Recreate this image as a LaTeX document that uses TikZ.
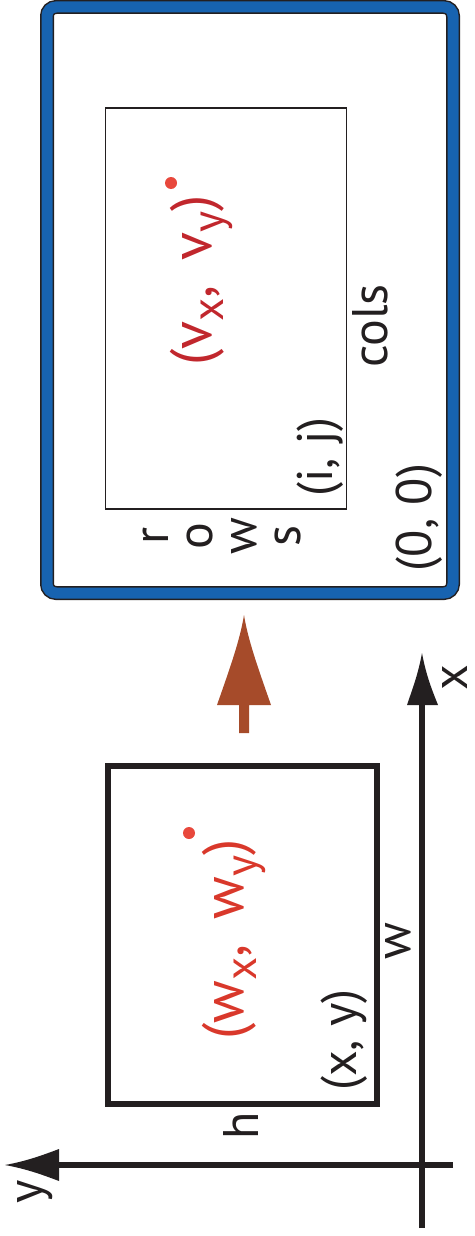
\documentclass[tikz,border=0pt]{standalone}
\usepackage{fontspec}
\setmainfont{PT Sans}
\definecolor{ink}{HTML}{231F20}
\definecolor{frameblue}{HTML}{1763B0}
\definecolor{vred}{HTML}{C1272D}
\definecolor{wred}{HTML}{D9382B}
\definecolor{dotred}{HTML}{E8483C}
\definecolor{brown}{HTML}{A64B2A}
\newcommand{\sbs}[1]{\raisebox{-0.22em}{\fontsize{45}{45}\selectfont #1}}
\begin{document}
\begin{tikzpicture}[x=1pt,y=-1pt,
  lbl/.style={rotate=90,inner sep=0pt,text=ink,font=\fontsize{50}{50}\selectfont},
  rlbl/.style={rotate=90,inner sep=0pt,font=\fontsize{58}{58}\selectfont},
  dot/.style={circle,fill=dotred,inner sep=0pt,minimum size=12pt},
  head/.style={fill=ink,draw=none}]
\useasboundingbox (0,0) rectangle (474,1236);
% ---------- right panel: image frame ----------
\draw[line width=14pt,draw=ink,rounded corners=9pt] (47,7) rectangle (453,593);
\draw[line width=11pt,draw=frameblue,rounded corners=9pt] (47,7) rectangle (453,593);
\draw[line width=1.3pt,draw=ink] (105.5,108) rectangle (346.5,509);
\node[lbl] (cols) at (370,326) {cols};
\node[lbl] (ij) at (320,457) {(i, j)};
\node[lbl] (o00) at (419,517.5) {(0, 0)};
\node[lbl,align=center,font=\fontsize{50}{44}\selectfont] (rows) at (222,536) {r\\o\\w\\s};
\node[rlbl,text=vred] (vtxt) at (201.5,280.5) {(v\sbs{x},\ \,v\sbs{y})};
\node[dot] (vdot) at (171,183) {};
% ---------- brown transformation arrow ----------
\coordinate (bt) at (244,615);
\fill[brown] (239,733) -- (239,705) -- (217,705)
  .. controls (230,668) and (240,640) .. (bt)
  .. controls (248,640) and (258,668) .. (271,705)
  -- (249,705) -- (249,733) -- cycle;
% ---------- left panel: world window ----------
\draw[line width=6pt,draw=ink] (108,766) rectangle (376.5,1104);
\node[rlbl,text=wred] (wtxt) at (234,939.5) {(w\sbs{x},\ \,w\sbs{y})};
\node[dot] (wdot) at (189,833) {};
\node[lbl] (xy) at (344,1040) {(x, y)};
\node[lbl] (wl) at (398.5,941.5) {w};
\node[lbl] (hl) at (240.5,1126) {h};
% axes
\coordinate (o) at (422,1165);
\coordinate (xend) at (422,1228);
\coordinate (xtip) at (422,653);
\coordinate (yend) at (453,1165);
\coordinate (ytip) at (5,1165);
\draw[line width=6pt,draw=ink] (xend) -- (422,700);
\draw[line width=6pt,draw=ink] (yend) -- (55,1165);
\fill[head] (xtip) .. controls (426,675) and (432,690) .. (438,705) -- (407,705) .. controls (412,690) and (418,675) .. (xtip) -- cycle;
\fill[head] (ytip) .. controls (27,1161) and (43,1155) .. (59,1149) -- (59,1181) .. controls (43,1175) and (27,1169) .. (ytip) -- cycle;
\node[lbl] (xl) at (455,678) {x};
\node[lbl] (yl) at (35,1192) {y};
\end{tikzpicture}
\end{document}
